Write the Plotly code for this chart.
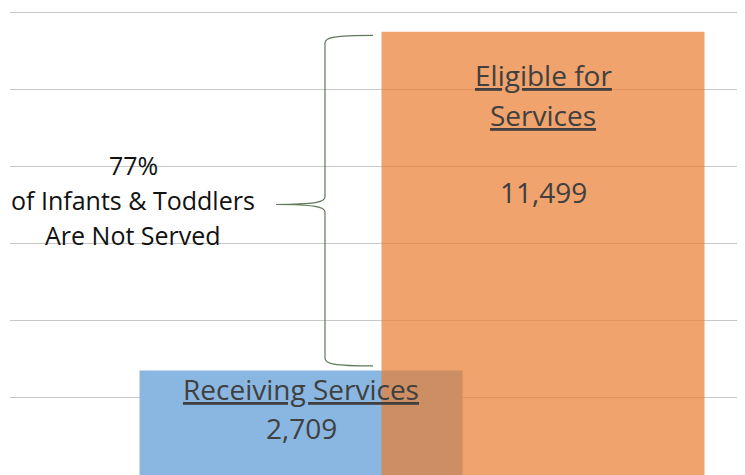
import plotly.graph_objects as go

# ---- data ----
categories = ["Receiving Services", "Eligible for Services"]
values = [2709, 11499]
pct_not_served = 77
bar_colors = ["#8AB7E1", "rgb(234,124,45)"]

# ---- layout (page body has an 8px margin, so the figure is offset by 8px) ----
OFF = 8
W, H = 745 - OFF, 475 - OFF
x_left = 10 - OFF
x_centers = [291, 533]
bar_width = 323
px_per_unit = 462.5 / 12000
y_top = H / px_per_unit

def ypx(py):
    # convert an absolute page pixel row to data units
    return (475 - py) / px_per_unit

fig = go.Figure()
for i, (cat, val) in enumerate(zip(categories, values)):
    fig.add_trace(go.Bar(
        x=[x_centers[i]], y=[val], width=[bar_width],
        marker=dict(color=bar_colors[i], line=dict(width=0)),
        opacity=1.0 if i == 0 else 0.7,
        name=cat, showlegend=False, hoverinfo="skip",
    ))

font_fam = "'Open Sans', Lato, sans-serif"
txt_col = "#404040"
anns = []
def ann(text, x, py, size=28, color=txt_col):
    anns.append(dict(text=text, x=x, y=ypx(py), xref="x", yref="y",
                     showarrow=False, xanchor="center", yanchor="middle",
                     font=dict(family=font_fam, size=size, color=color)))

ann("<u>Eligible for</u>", x_centers[1], 75)
ann("<u>Services</u>", x_centers[1], 115)
ann(f"{values[1]:,}", x_centers[1], 192)
ann("<u>Receiving Services</u>", x_centers[0], 389)
ann(f"{values[0]:,}", x_centers[0], 428)
ann(f"{pct_not_served}%", 123, 165, size=25, color="#111111")
ann("of Infants &amp; Toddlers", 123, 200, size=25, color="#111111")
ann("Are Not Served", 123, 235, size=25, color="#111111")

# curly brace spanning the gap between the two bars
top = values[1] - 90
bot = values[0] + 120
mid = ypx(204.5)
xb, xa, xt = 315, 363, 266
path = (f"M {xa},{top} C {xb+8},{top} {xb},{top-60} {xb},{top-200} "
        f"L {xb},{mid+200} C {xb},{mid+60} {xb-10},{mid} {xt},{mid} "
        f"C {xb-10},{mid} {xb},{mid-60} {xb},{mid-200} "
        f"L {xb},{bot+200} C {xb},{bot+60} {xb+8},{bot} {xa},{bot}")

fig.update_layout(
    width=W, height=H,
    margin=dict(l=x_left, r=0, t=0, b=0),
    paper_bgcolor="white", plot_bgcolor="white",
    xaxis=dict(range=[0, 735], visible=False, fixedrange=True),
    yaxis=dict(range=[0, y_top], showgrid=True, gridcolor="#c8c8c8", gridwidth=1,
               dtick=2000, tick0=0, showticklabels=False, zeroline=False,
               showline=False, ticks=""),
    barmode="overlay",
    annotations=anns,
    shapes=[dict(type="path", path=path, xref="x", yref="y",
                 line=dict(color="#5E7A57", width=1.2), fillcolor="rgba(0,0,0,0)")],
)

fig.write_html("out.html")
